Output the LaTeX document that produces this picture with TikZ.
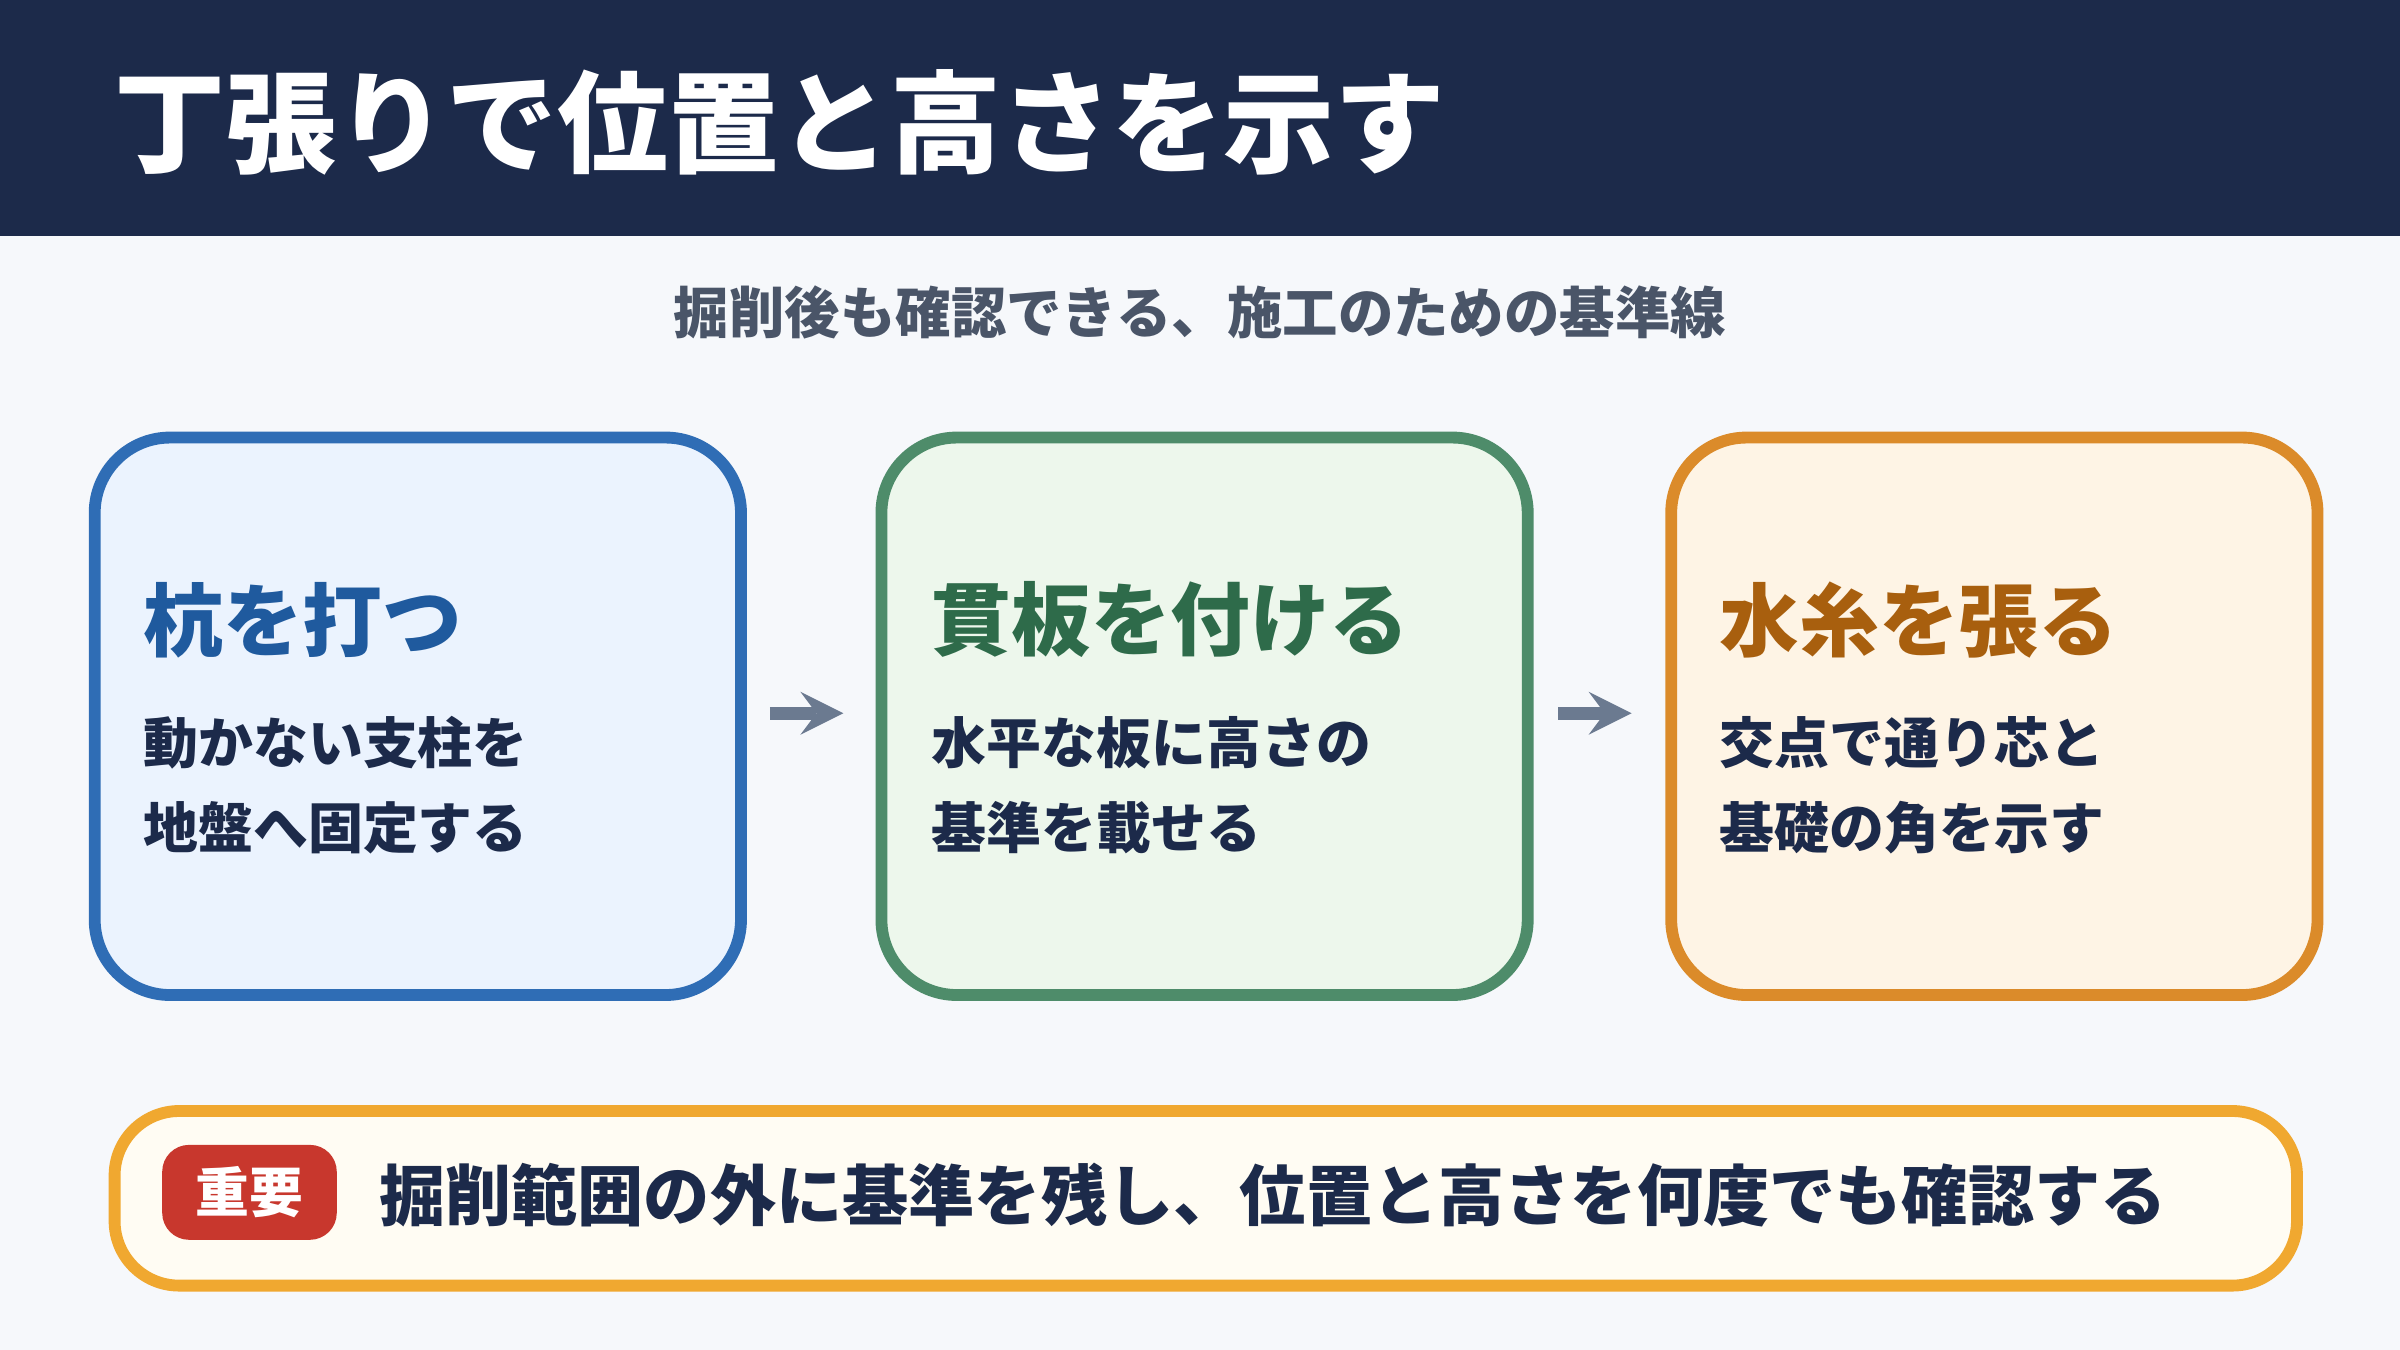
\documentclass[tikz,border=0pt]{standalone}
\usepackage{fontspec}
\setmainfont{Noto Sans CJK JP}
\usetikzlibrary{positioning}
\definecolor{navy}{HTML}{1C2A4A}
\definecolor{bgc}{HTML}{F6F8FB}
\definecolor{subc}{HTML}{4A5568}
\definecolor{bluec}{HTML}{2F6DB5}
\definecolor{bluet}{HTML}{1F5A9E}
\definecolor{bluef}{HTML}{EBF3FE}
\definecolor{greenc}{HTML}{4E8C6A}
\definecolor{greent}{HTML}{2E6B4A}
\definecolor{greenf}{HTML}{EDF7EC}
\definecolor{orc}{HTML}{DB8B2A}
\definecolor{ort}{HTML}{A85F0E}
\definecolor{orf}{HTML}{FEF4E5}
\definecolor{notec}{HTML}{F0A830}
\definecolor{notef}{HTML}{FFFCF3}
\definecolor{redc}{HTML}{C8372D}
\definecolor{arrc}{HTML}{6B7A90}
\tikzset{
  card/.style={draw=#1, line width=2.2pt, rounded corners=14pt, minimum width=4.22cm, minimum height=3.64cm, inner sep=0pt, anchor=north west},
  head/.style={anchor=west, inner sep=0pt, font=\fontsize{14.8}{16}\selectfont\bfseries},
  body/.style={anchor=west, inner sep=0pt, text=navy, font=\fontsize{10.2}{11}\selectfont\bfseries},
  arr/.style={->, >=stealth, line width=2.4pt, arrc}
}
\begin{document}
\begin{tikzpicture}[x=0.01cm,y=-0.01cm]
  \useasboundingbox (0,0) rectangle (1568,882);
  \fill[bgc] (0,0) rectangle (1568,882);
  \fill[navy] (0,0) rectangle (1568,154);
  \node[anchor=west, inner sep=0pt, text=white, font=\fontsize{20.6}{23}\selectfont\bfseries] (title) at (74,80) {丁張りで位置と高さを示す};
  \node[inner sep=0pt, text=subc, font=\fontsize{10.3}{12}\selectfont\bfseries] (sub) at (784,204) {掘削後も確認できる、施工のための基準線};

  % three steps
  \node[card=bluec, fill=bluef] (b1) at (58,282) {};
  \node[card=greenc, fill=greenf] (b2) at (572,282) {};
  \node[card=orc, fill=orf] (b3) at (1088,282) {};

  \node[head, text=bluet] (h1) at (93,405) {杭を打つ};
  \node[body] (t1a) at (93,485) {動かない支柱を};
  \node[body] (t1b) at (93,541) {地盤へ固定する};

  \node[head, text=greent] (h2) at (608,405) {貫板を付ける};
  \node[body] (t2a) at (608,485) {水平な板に高さの};
  \node[body] (t2b) at (608,541) {基準を載せる};

  \node[head, text=ort] (h3) at (1123,405) {水糸を張る};
  \node[body] (t3a) at (1123,485) {交点で通り芯と};
  \node[body] (t3b) at (1123,541) {基礎の角を示す};

  \coordinate (a1s) at (503,466);
  \coordinate (a1e) at (551,466);
  \coordinate (a2s) at (1018,466);
  \coordinate (a2e) at (1066,466);
  \draw[arr] (a1s) -- (a1e);
  \draw[arr] (a2s) -- (a2e);

  % note
  \node[draw=notec, fill=notef, line width=2.2pt, rounded corners=12pt, minimum width=14.25cm, minimum height=1.14cm, inner sep=0pt, anchor=north west] (note) at (71,722) {};
  \node[fill=redc, rounded corners=5pt, minimum width=1.14cm, minimum height=0.62cm, inner sep=0pt, text=white, font=\fontsize{10}{11}\selectfont\bfseries] (tag) at (163,779) {重要};
  \node[anchor=west, inner sep=0pt, text=navy, font=\fontsize{12.3}{14}\selectfont\bfseries] (msg) at (247,781) {掘削範囲の外に基準を残し、位置と高さを何度でも確認する};
\end{tikzpicture}
\end{document}
